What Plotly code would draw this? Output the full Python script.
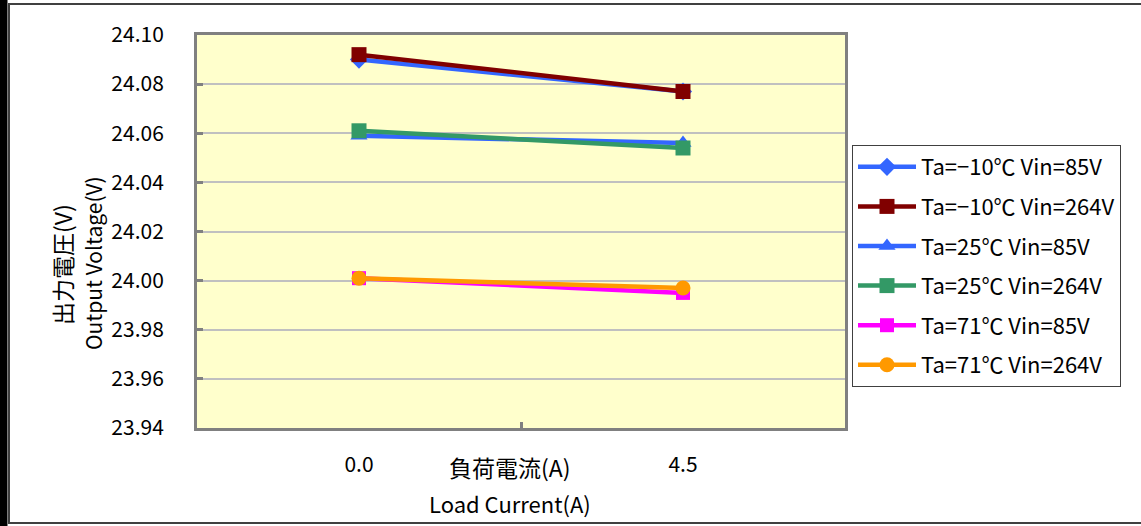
import plotly.graph_objects as go

categories = ["0.0", "4.5"]
series_names = [
    "Ta=\u221210\u2103 Vin=85V",
    "Ta=\u221210\u2103 Vin=264V",
    "Ta=25\u2103 Vin=85V",
    "Ta=25\u2103 Vin=264V",
    "Ta=71\u2103 Vin=85V",
    "Ta=71\u2103 Vin=264V",
]
s_m10_85 = [24.090, 24.077]
s_m10_264 = [24.092, 24.077]
s_25_85 = [24.059, 24.056]
s_25_264 = [24.061, 24.054]
s_71_85 = [24.001, 23.995]
s_71_264 = [24.001, 23.997]
series_values = [s_m10_85, s_m10_264, s_25_85, s_25_264, s_71_85, s_71_264]
y_ticks = [23.94, 23.96, 23.98, 24.00, 24.02, 24.04, 24.06, 24.08, 24.10]

colors = ["#3366FF", "#800000", "#3366FF", "#339966", "#FF00FF", "#FF9900"]
symbols = ["diamond", "square", "triangle-up", "square", "square", "circle"]
msizes = [14, 15, 15, 15, 14, 15]

W, H = 1141, 526
L, R, T, B = 197, 845, 35, 428
FONT = "Noto Sans CJK JP"

fig = go.Figure()
for name, vals, c, s, ms in zip(series_names, series_values, colors, symbols, msizes):
    fig.add_trace(go.Scatter(
        x=categories, y=vals, name=name, mode="lines+markers",
        line=dict(color=c, width=4.5),
        marker=dict(color=c, symbol=s, size=ms),
        legendgroup=name,
    ))

def px(x):
    return (x - L) / (R - L)

def py(y):
    return (B - y) / (B - T)

shapes = [
    dict(type="rect", xref="paper", yref="paper", x0=px(0), x1=px(7), y0=py(526), y1=py(0),
         fillcolor="black", line=dict(color="black", width=1), layer="above"),
    dict(type="rect", xref="paper", yref="paper", x0=px(9), x1=px(1150), y0=py(523), y1=py(4),
         fillcolor="rgba(0,0,0,0)", line=dict(color="#404040", width=2), layer="above"),
]

annotations = [
    dict(text="負荷電流(A)", xref="paper", yref="paper", x=px(510), y=py(467),
         showarrow=False, font=dict(family=FONT, size=23, color="black"), xanchor="center", yanchor="middle"),
    dict(text="Load Current(A)", xref="paper", yref="paper", x=px(510), y=py(503),
         showarrow=False, font=dict(family=FONT, size=22, color="black"), xanchor="center", yanchor="middle"),
    dict(text="出力電圧(V)", xref="paper", yref="paper", x=px(62), y=py(265), textangle=-90,
         showarrow=False, font=dict(family=FONT, size=23, color="black"), xanchor="center", yanchor="middle"),
    dict(text="Output Voltage(V)", xref="paper", yref="paper", x=px(93), y=py(263), textangle=-90,
         showarrow=False, font=dict(family=FONT, size=21, color="black"), xanchor="center", yanchor="middle"),
]

fig.update_layout(
    width=W, height=H,
    margin=dict(l=L, r=W - R, t=T, b=H - B, pad=0),
    paper_bgcolor="white",
    plot_bgcolor="#FFFFCC",
    font=dict(family=FONT, size=21, color="black"),
    showlegend=True,
    legend=dict(
        x=px(852), y=py(145), xanchor="left", yanchor="top",
        bordercolor="#404040", borderwidth=1, bgcolor="white",
        font=dict(family=FONT, size=22, color="black"),
        itemwidth=58, tracegroupgap=8,
    ),
    shapes=shapes,
    annotations=annotations,
)
fig.update_xaxes(
    type="category", range=[-0.5, 1.5],
    tickson="boundaries", ticks="inside", ticklen=6, tickwidth=3, tickcolor="#808080",
    showline=True, linecolor="#808080", linewidth=3, mirror=True,
    showgrid=False, zeroline=False,
    tickfont=dict(family=FONT, size=21, color="black"),
    ticklabelstandoff=16,
)
fig.update_yaxes(
    range=[23.94, 24.10], tickvals=y_ticks, tickformat=".2f",
    ticks="inside", ticklen=6, tickwidth=3, tickcolor="#808080",
    showline=True, linecolor="#808080", linewidth=3, mirror=True,
    showgrid=True, gridcolor="#C0C0C0", gridwidth=2, zeroline=False,
    tickfont=dict(family=FONT, size=21, color="black"),
    ticklabelstandoff=26,
)

fig.write_html("out.html", config={"displayModeBar": False},
               post_script="document.body.style.margin='0';")
